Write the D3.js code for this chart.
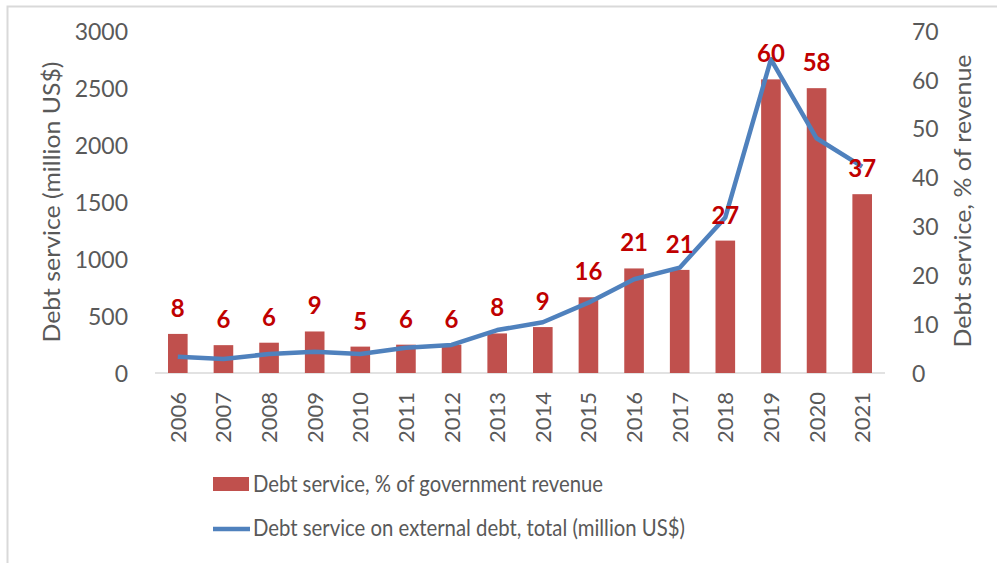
<!DOCTYPE html>
<html>
<head>
<meta charset="utf-8">
<script src="https://cdn.jsdelivr.net/npm/d3@7"></script>
<style>
  body { margin: 0; background: #fff; }
  svg text { font-family: Lato, "Open Sans", "Liberation Sans", sans-serif; }
</style>
</head>
<body>
<div id="chart"></div>
<script>
// data
var years = ["2006","2007","2008","2009","2010","2011","2012","2013",
             "2014","2015","2016","2017","2018","2019","2020","2021"];
var pctRevenue = [8.0, 5.7, 6.2, 8.5, 5.4, 5.8, 5.8, 8.1, 9.4, 15.5, 21.4, 21.1, 27.1, 60.1, 58.3, 36.6];
var pctLabels = [8, 6, 6, 9, 5, 6, 6, 8, 9, 16, 21, 21, 27, 60, 58, 37];
var debtService = [143, 123, 167, 187, 167, 222, 246, 377, 445, 617, 822, 924, 1365, 2752, 2059, 1810];
var leftTicks = [0, 500, 1000, 1500, 2000, 2500, 3000];
var rightTicks = [0, 10, 20, 30, 40, 50, 60, 70];

var W = 997, H = 563;
var svg = d3.select("#chart").append("svg")
  .attr("width", W).attr("height", H);

// chart frame (only top/left visible)
svg.append("rect")
  .attr("x", 7.5).attr("y", 6.5)
  .attr("width", W + 20).attr("height", H + 20)
  .attr("fill", "#fff")
  .attr("stroke", "#d9d9d9")
  .attr("stroke-width", 2);

var x = d3.scaleBand().domain(years).range([155, 885]).paddingInner(0.57).paddingOuter(0.285);
var yL = d3.scaleLinear().domain([0, 3000]).range([373, 31]);
var yR = d3.scaleLinear().domain([0, 70]).range([373, 31]);

// baseline
svg.append("line")
  .attr("x1", 155).attr("x2", 885)
  .attr("y1", yL(0)).attr("y2", yL(0))
  .attr("stroke", "#d9d9d9").attr("stroke-width", 1.5);

// left axis
var gL = svg.append("g").attr("transform", "translate(128,0)")
  .call(d3.axisLeft(yL).tickValues(leftTicks).tickFormat(d3.format("d")).tickSize(0).tickPadding(0));
gL.select(".domain").remove();
gL.selectAll("text").attr("fill", "#595959").style("font-size", "23px").attr("dy", "0.36em");

// right axis
var gR = svg.append("g").attr("transform", "translate(912,0)")
  .call(d3.axisRight(yR).tickValues(rightTicks).tickSize(0).tickPadding(0));
gR.select(".domain").remove();
gR.selectAll("text").attr("fill", "#595959").style("font-size", "23px").attr("dy", "0.36em");

// x labels, rotated
svg.append("g").selectAll("text")
  .data(years).enter().append("text")
  .attr("transform", function(d) { return "translate(" + (x(d) + x.bandwidth() / 2 + 8) + ",392) rotate(-90)"; })
  .attr("text-anchor", "end")
  .attr("fill", "#595959")
  .style("font-size", "22px")
  .text(function(d) { return d; });

// axis titles
svg.append("text")
  .attr("transform", "translate(60,202) rotate(-90)")
  .attr("text-anchor", "middle")
  .attr("fill", "#595959")
  .style("font-size", "24px")
  .attr("textLength", 281).attr("lengthAdjust", "spacingAndGlyphs")
  .text("Debt service (million US$)");

svg.append("text")
  .attr("transform", "translate(971,201) rotate(-90)")
  .attr("text-anchor", "middle")
  .attr("fill", "#595959")
  .style("font-size", "24px")
  .attr("textLength", 293).attr("lengthAdjust", "spacingAndGlyphs")
  .text("Debt service, % of revenue");

// bars
svg.append("g").selectAll("rect")
  .data(pctRevenue).enter().append("rect")
  .attr("x", function(d, i) { return x(years[i]); })
  .attr("y", function(d) { return yR(d); })
  .attr("width", x.bandwidth())
  .attr("height", function(d) { return yR(0) - yR(d); })
  .attr("fill", "#c0504d");

// line
var line = d3.line()
  .x(function(d, i) { return x(years[i]) + x.bandwidth() / 2; })
  .y(function(d) { return yL(d); });
svg.append("path")
  .datum(debtService)
  .attr("d", line)
  .attr("fill", "none")
  .attr("stroke", "#4f81bd")
  .attr("stroke-width", 4.5)
  .attr("stroke-linejoin", "round");

// bar value labels
svg.append("g").selectAll("text")
  .data(pctLabels).enter().append("text")
  .attr("x", function(d, i) { return x(years[i]) + x.bandwidth() / 2; })
  .attr("y", function(d, i) { return yR(pctRevenue[i]) - 17; })
  .attr("text-anchor", "middle")
  .attr("fill", "#c00000")
  .style("font-size", "24px")
  .style("font-weight", "bold")
  .text(function(d) { return d; });

// legend
var lg = svg.append("g");
lg.append("rect")
  .attr("x", 213).attr("y", 477).attr("width", 36).attr("height", 14)
  .attr("fill", "#c0504d");
lg.append("text")
  .attr("x", 253).attr("y", 484).attr("dy", "0.35em")
  .attr("fill", "#595959").style("font-size", "23px")
  .attr("textLength", 350).attr("lengthAdjust", "spacingAndGlyphs")
  .text("Debt service, % of government revenue");
lg.append("line")
  .attr("x1", 213).attr("x2", 250).attr("y1", 529).attr("y2", 529)
  .attr("stroke", "#4f81bd").attr("stroke-width", 4.5);
lg.append("text")
  .attr("x", 253).attr("y", 528).attr("dy", "0.35em")
  .attr("fill", "#595959").style("font-size", "23px")
  .attr("textLength", 432).attr("lengthAdjust", "spacingAndGlyphs")
  .text("Debt service on external debt, total (million US$)");
</script>
</body>
</html>
